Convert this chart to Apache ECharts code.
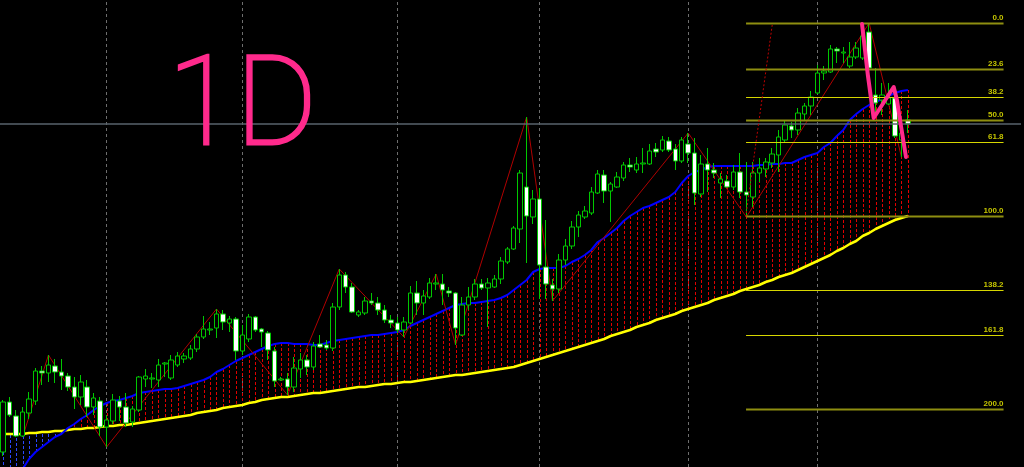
<!DOCTYPE html>
<html><head><meta charset="utf-8">
<script src="https://cdn.jsdelivr.net/npm/echarts@6/dist/echarts.min.js"></script>
<style>html,body{margin:0;padding:0;background:#000;}#c{width:1024px;height:467px;}</style>
</head><body><div id="c"></div>
<script>
// ---- data (price units) ----
const N_SLOTS = 158;
const categories = Array.from({length: N_SLOTS}, (_, i) => 'Bar ' + (i + 1));
const opens = [15,65,51,31,54,66,96,94,101,95, 91,80,70,80,60,66,40,46,66,60, 45,57,88,88,87,103,89,102,108,109, 118,130,137,139,153,144,148,116,128,150, 138,134,116,87,88,80,98,107,100,123, 122,119,160,192,180,152,154,166,164,157, 147,144,137,144,174,164,170,183,183,176, 174,132,162,170,183,179,180,188,205,218, 238,280,250,268,200,182,178,207,221,240, 250,254,274,292,276,280,289,302,297,303, 303,318,317,326,318,306,323,314,273,303, 297,284,286,280,295,275,270,294,298,304, 312,327,341,337,353,361,374,394,395,418, 414,401,410,409,435,372,367,363,369,327, 347];
const closes = [65,52,31,55,68,96,94,102,95,91, 80,70,85,60,69,40,47,67,60,44, 58,90,91,89,102,104,107,111,111,118, 130,138,138,153,145,148,116,132,150,137, 135,117,86,88,80,99,107,100,121,120, 119,160,192,180,155,155,166,164,157,147, 144,137,145,174,164,171,184,184,177,174, 139,162,170,183,179,184,188,206,218,239, 294,251,268,202,183,178,207,221,240,252, 256,275,293,276,283,290,302,300,303,304, 316,315,327,317,306,327,314,274,303,297, 294,288,280,295,275,272,294,299,305,313, 330,342,337,354,361,370,394,396,418,416, 415,410,419,431,399,364,372,369,331,334, 343];
const highs = [67,70,57,60,75,99,101,112,108,108, 94,90,92,87,74,70,52,73,71,74, 61,91,98,94,108,105,112,115,114,122, 133,151,145,158,157,151,150,142,153,151, 139,136,120,90,94,110,114,112,125,132, 127,164,198,195,184,157,170,174,170,162, 152,150,150,181,186,177,189,193,193,180, 175,170,180,188,188,189,192,210,220,241, 297,350,277,279,247,188,213,228,246,256, 261,280,297,297,285,295,305,309,310,319, 323,324,331,330,323,330,334,329,312,319, 304,294,292,302,314,305,305,309,309,319, 337,347,345,359,364,376,402,401,422,420, 420,425,425,435,444,399,384,384,379,339, 357];
const lows = [11,50,30,30,48,62,82,85,84,77, 76,58,62,50,52,31,20,43,46,40, 40,55,80,79,80,90,87,100,104,107, 115,128,132,129,137,135,107,112,125,135, 120,107,80,86,72,75,89,92,97,119, 117,116,157,174,154,150,152,162,152,144, 139,134,130,143,152,152,168,177,162,170, 122,131,157,167,177,140,179,183,203,217, 224,204,243,168,168,166,174,202,218,230, 248,252,273,264,245,279,286,295,294,294, 302,310,315,315,297,304,304,262,270,275, 289,269,279,277,269,250,260,285,290,299, 295,325,329,332,347,352,373,387,394,404, 404,399,408,407,395,352,352,362,329,310, 334];
const maFast = [-23,-16,-9,-2,8,15,20,25,30,33, 39,43,48,52,57,61,64,66,67,69, 71,74,75,76,77,78,78,79,81,83, 85,87,90,95,98,102,106,109,112,115, 118,121,123,124,124,123,123,123,122,122, 124,126,127,128,129,130,131,132,132,133, 134,135,137,141,144,147,150,153,156,159, 162,163,164,164,165,166,167,169,172,177, 182,187,195,198,199,199,199,201,205,208, 212,217,225,229,234,239,246,251,255,259, 261,264,267,270,275,284,291,295,297,300, 301,301,301,301,301,301,301,302,302,303, 303,304,304,307,310,312,314,320,324,331, 337,347,353,358,362,365,368,371,374,376, 377];
const maSlow = [33,33,33,33,34,34,35,35,36,36, 37,38,38,39,39,40,41,41,42,42, 43,44,45,46,47,48,49,50,51,52, 54,55,56,57,59,60,61,62,64,65, 67,68,69,70,70,71,72,73,74,74, 75,76,77,78,79,80,80,81,82,83, 83,84,85,85,86,87,88,89,90,91, 92,92,93,94,95,96,97,98,99,100, 102,104,106,108,110,112,114,116,118,120, 122,124,126,128,131,133,135,137,140,142, 144,147,149,151,153,156,158,160,162,164, 167,169,171,173,176,178,180,182,185,187, 190,192,194,197,200,203,206,209,212,216, 219,223,226,231,234,238,241,244,247,249, 251];
const zigzag = [[3,30],[7,112],[16,20],[33,158],[44,72],[52,198],[62,130],[67,193],[70,122],[81,350],[85,166],[106,334],[115,250],[134,444],[139,310]];
const separators = [16, 37, 61, 83, 106, 126];
const priceLine = 343;
const fibLevels = [0, 23.6, 38.2, 50, 61.8, 100, 138.2, 161.8, 200];
const fibHigh = 444, fibLow = 251, fibStart = 114.95, fibEnd = 154.8;
const fibTrend = [[114.9, 250], [119.0, 442]];
const penPath = [[132.9,443],[133.8,392],[134.7,349],[135.7,359],[136.8,370],[137.8,380],[138.3,367],[138.9,342],[139.7,310]];

// ---- chart ----
const chart = echarts.init(document.getElementById('c'), null, {renderer: 'canvas'});
const candleData = opens.map((o, i) => [o, closes[i], lows[i], highs[i]]);
const fillData = maFast.map((v, i) => [i, v, maSlow[i]]);
const brightSet = [38.2, 61.8, 138.2, 161.8];
const fibData = fibLevels.map(p => [fibStart, fibEnd, fibHigh - (fibHigh - fibLow) * p / 100, p]);

const option = {
  backgroundColor: '#000',
  animation: false,
  grid: {left: 0, right: 3, top: 0, bottom: 0},
  xAxis: [
    {type: 'category', data: categories, boundaryGap: true, show: false},
    {type: 'value', min: -0.5, max: N_SLOTS - 0.5, show: false}
  ],
  yAxis: {type: 'value', min: 0, max: 467, show: false},
  series: [
    {
      type: 'custom', name: 'MA gap', xAxisIndex: 0, clip: true, z: 1, silent: true,
      data: fillData,
      renderItem: function (params, api) {
        const i = api.value(0), a = api.value(1), b = api.value(2);
        const p1 = api.coord([i, a]), p2 = api.coord([i, b]);
        const x = Math.round(p1[0]) + 0.5;
        return {type: 'line', shape: {x1: x, y1: p1[1], x2: x, y2: p2[1]},
          style: {stroke: a > b ? '#e00000' : '#2a48ff', lineWidth: 1, lineDash: [3, 2]}};
      }
    },
    {type: 'line', name: 'MA slow', data: maSlow, symbol: 'none', z: 2,
      lineStyle: {color: '#ffff00', width: 2.5},
      markLine: {
        z: 1, silent: true, symbol: ['none', 'none'], label: {show: false}, animation: false,
        data: separators.map(i => ({xAxis: categories[i], lineStyle: {color: '#6e6e6e', width: 1, type: [3, 3]}}))
      }},
    {type: 'line', name: 'MA fast', data: maFast, symbol: 'none', z: 2,
      lineStyle: {color: '#0000ff', width: 2}},
    {type: 'line', name: 'ZigZag', data: zigzag, symbol: 'none', z: 3,
      lineStyle: {color: '#b00000', width: 1}},
    {
      type: 'candlestick', name: 'Price', data: candleData, barWidth: 5, z: 4,
      itemStyle: {color: '#000', color0: '#fff', borderColor: '#00c800', borderColor0: '#00c800', borderWidth: 1},
      markLine: {
        silent: true, symbol: ['none', 'none'], label: {show: false}, animation: false,
        data: [{yAxis: priceLine, lineStyle: {color: '#59636d', width: 1.5, type: 'solid'}}]
      }
    },
    {
      type: 'custom', name: 'Fibo', xAxisIndex: 1, z: 5, silent: true,
      data: fibData,
      renderItem: function (params, api) {
        const s = api.coord([api.value(0), api.value(2)]);
        const e = api.coord([api.value(1), api.value(2)]);
        const p = api.value(3);
        const bright = brightSet.indexOf(p) >= 0;
        const yy = Math.round(s[1]) + 0.5;
        return {type: 'group', children: [
          {type: 'line', shape: {x1: s[0], y1: yy, x2: e[0], y2: yy},
            style: {stroke: bright ? '#d6d600' : '#8e8e10', lineWidth: bright ? 1 : 2}},
          {type: 'text', style: {text: p.toFixed(1), x: e[0], y: yy - 2, align: 'right', verticalAlign: 'bottom',
            fill: '#c4c400', font: 'bold 8px "Liberation Sans"'}}
        ]};
      }
    },
    {type: 'line', name: 'Fibo trend', xAxisIndex: 1, data: fibTrend, symbol: 'none', z: 5,
      lineStyle: {color: '#c00000', width: 1, type: [2, 2]}},
    {type: 'line', name: 'Pen', xAxisIndex: 1, data: penPath, symbol: 'none', z: 6,
      lineStyle: {color: '#ff2a8c', width: 4, cap: 'round', join: 'round'}}
  ],
  graphic: [
    {type: 'text', x: 168, y: 51, z: 10, silent: true,
      style: {text: '1D', font: '100 124px Roboto', fill: '#ff2a8c', stroke: '#ff2a8c', lineWidth: 3, lineJoin: 'round'}}
  ]
};
chart.setOption(option);
</script>
</body></html>
